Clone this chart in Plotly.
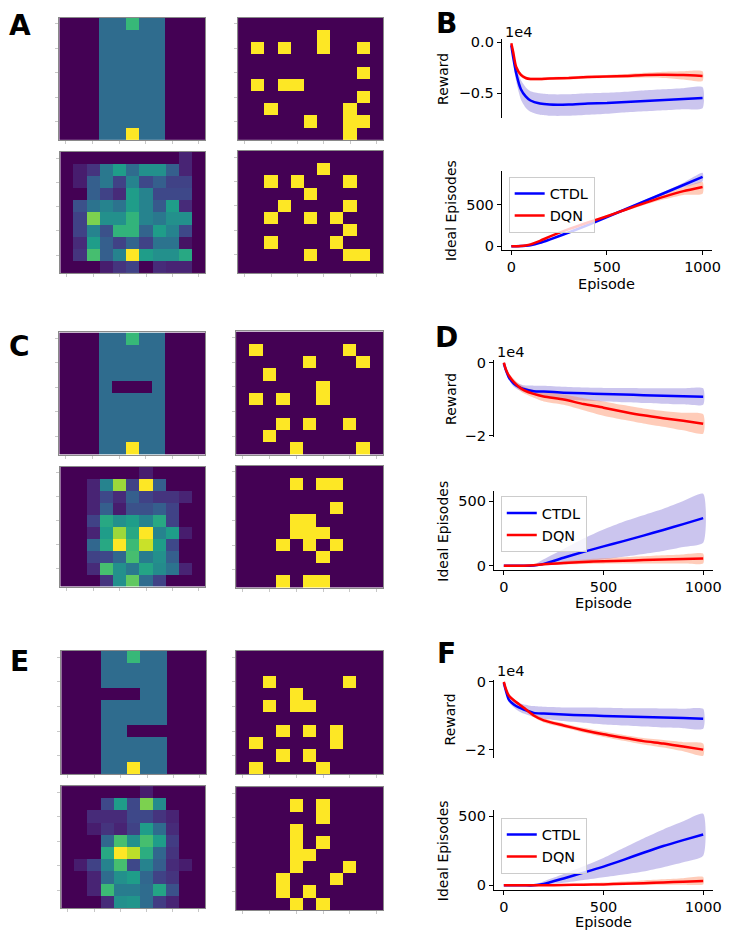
import plotly.graph_objects as go

W, H = 733, 941

# ---------------- grid data (10 rows x 11 cols) ----------------
A_track = [
    [0, 0, 0, .35, .35, .67, .35, .35, 0, 0, 0],
    [0, 0, 0, .35, .35, .35, .35, .35, 0, 0, 0],
    [0, 0, 0, .35, .35, .35, .35, .35, 0, 0, 0],
    [0, 0, 0, .35, .35, .35, .35, .35, 0, 0, 0],
    [0, 0, 0, .35, .35, .35, .35, .35, 0, 0, 0],
    [0, 0, 0, .35, .35, .35, .35, .35, 0, 0, 0],
    [0, 0, 0, .35, .35, .35, .35, .35, 0, 0, 0],
    [0, 0, 0, .35, .35, .35, .35, .35, 0, 0, 0],
    [0, 0, 0, .35, .35, .35, .35, .35, 0, 0, 0],
    [0, 0, 0, .35, .35, 1.0, .35, .35, 0, 0, 0],
]
C_track = [
    [0, 0, 0, .35, .35, .67, .35, .35, 0, 0, 0],
    [0, 0, 0, .35, .35, .35, .35, .35, 0, 0, 0],
    [0, 0, 0, .35, .35, .35, .35, .35, 0, 0, 0],
    [0, 0, 0, .35, .35, .35, .35, .35, 0, 0, 0],
    [0, 0, 0, .35, 0, 0, 0, .35, 0, 0, 0],
    [0, 0, 0, .35, .35, .35, .35, .35, 0, 0, 0],
    [0, 0, 0, .35, .35, .35, .35, .35, 0, 0, 0],
    [0, 0, 0, .35, .35, .35, .35, .35, 0, 0, 0],
    [0, 0, 0, .35, .35, .35, .35, .35, 0, 0, 0],
    [0, 0, 0, .35, .35, 1.0, .35, .35, 0, 0, 0],
]
E_track = [
    [0, 0, 0, .35, .35, .67, .35, .35, 0, 0, 0],
    [0, 0, 0, .35, .35, .35, .35, .35, 0, 0, 0],
    [0, 0, 0, .35, .35, .35, .35, .35, 0, 0, 0],
    [0, 0, 0, 0, 0, 0, .35, .35, 0, 0, 0],
    [0, 0, 0, .35, .35, .35, .35, .35, 0, 0, 0],
    [0, 0, 0, .35, .35, .35, .35, .35, 0, 0, 0],
    [0, 0, 0, .35, .35, 0, 0, 0, 0, 0, 0],
    [0, 0, 0, .35, .35, .35, .35, .35, 0, 0, 0],
    [0, 0, 0, .35, .35, .35, .35, .35, 0, 0, 0],
    [0, 0, 0, .35, .35, 1.0, .35, .35, 0, 0, 0],
]

A_obs = ["00000000000", "00000010000", "01010010010", "00000000000", "00000000010",
         "01011000000", "00000000010", "00100000100", "00000100110", "00000000100"]
A_bin = ["00000000000", "00000010000", "00101000100", "00000100000", "00010000100",
         "00100101000", "00000000100", "00100001000", "00000100110", "00000000000"]
C_obs = ["00000000000", "01000000100", "00000100010", "00100000000", "00000010000",
         "01010010000", "00000000000", "00010100100", "00100000000", "00001000010"]
C_bin = ["00000000000", "00001011000", "00000000000", "00000001000", "00001100000",
         "00001110000", "00010101000", "00000010000", "00000000000", "00010110000"]
E_obs = ["00000000000", "00000000000", "00100000100", "00001000000", "00101100000",
         "00000000000", "00010101000", "01000001000", "00010100000", "01000010000"]
E_bin = ["00000000000", "00001010000", "00000010000", "00001000000", "00001010000",
         "00001100000", "00001000100", "00010001000", "00010100000", "00001010000"]

A_heat = [
    [0, 0, 0, 0, 0, 0, 0, 0, 0, .10, 0],
    [0, .08, .15, .40, .55, .35, .50, .50, .30, .10, 0],
    [0, .08, .30, .40, .20, .45, .22, .30, .20, .20, 0],
    [0, 0, .30, .20, .12, .55, .45, .22, .22, .22, 0],
    [0, .25, .38, .45, .38, .55, .45, .28, .55, .12, 0],
    [0, .20, .80, .50, .50, .65, .45, .40, .50, .50, 0],
    [0, .20, .45, .25, .65, .65, .32, .55, .45, .22, 0],
    [0, .12, .55, .30, .20, .32, .20, .38, .38, .05, 0],
    [0, .15, .70, .30, .45, 1.0, .55, .50, .50, .60, 0],
    [0, 0, 0, .08, .15, .20, 0, .12, .10, .10, 0],
]
C_heat = [
    [0, 0, 0, 0, 0, 0, .08, 0, 0, 0, 0],
    [0, 0, .10, .45, .85, .20, 1.0, .30, 0, 0, 0],
    [0, 0, .10, .22, .12, .30, .20, .15, .15, .10, 0],
    [0, 0, .10, .30, .08, .25, .25, .30, .20, 0, 0],
    [0, 0, .20, .60, .50, .55, .45, .60, .20, 0, 0],
    [0, 0, .10, .55, .85, .60, 1.0, .45, .55, .08, 0],
    [0, 0, .33, .60, 1.0, .68, .92, .55, .22, 0, 0],
    [0, 0, .20, .22, .33, .70, .42, .50, .30, 0, 0],
    [0, 0, .12, .70, .50, .40, .58, .48, .38, .10, 0],
    [0, 0, 0, .15, .50, .75, .35, .20, 0, 0, 0],
]
E_heat = [
    [0, 0, 0, 0, 0, 0, .08, 0, 0, 0, 0],
    [0, 0, 0, .22, .55, .22, .80, .48, 0, 0, 0],
    [0, 0, .12, .12, .12, .22, .22, .15, .10, 0, 0],
    [0, 0, .08, .15, .10, .20, .55, .35, .12, 0, 0],
    [0, 0, 0, .33, .70, .50, .70, .55, .18, 0, 0],
    [0, 0, 0, .60, 1.0, .90, .62, .33, .15, 0, 0],
    [0, .08, .20, .45, .70, .22, .45, .30, .12, .08, 0],
    [0, 0, .10, .35, .50, .55, .33, .20, .15, 0, 0],
    [0, 0, .10, .68, .42, .42, .35, .58, .25, 0, 0],
    [0, 0, 0, .12, .50, .52, .35, .18, .10, 0, 0],
]

# ---------------- curve data ----------------
episodes = [0, 10, 25, 50, 75, 100, 150, 200, 300, 400, 500, 600, 700, 800, 900, 1000]

# rewards in units of 1e4
B_rew_ctdl = [-0.03, -0.15, -0.30, -0.46, -0.53, -0.57, -0.60, -0.61, -0.61, -0.60, -0.595, -0.585, -0.575, -0.565, -0.555, -0.545]
B_rew_ctdl_hi = [-0.01, -0.10, -0.22, -0.37, -0.44, -0.48, -0.50, -0.51, -0.51, -0.50, -0.495, -0.485, -0.47, -0.46, -0.45, -0.44]
B_rew_ctdl_lo = [-0.05, -0.20, -0.38, -0.56, -0.64, -0.68, -0.71, -0.72, -0.72, -0.71, -0.70, -0.685, -0.675, -0.665, -0.655, -0.645]
B_rew_dqn = [-0.01, -0.10, -0.24, -0.32, -0.35, -0.36, -0.36, -0.355, -0.35, -0.34, -0.335, -0.33, -0.32, -0.318, -0.322, -0.33]
B_rew_dqn_hi = [0.0, -0.08, -0.22, -0.30, -0.335, -0.345, -0.345, -0.34, -0.335, -0.325, -0.32, -0.312, -0.30, -0.29, -0.285, -0.285]
B_rew_dqn_lo = [-0.02, -0.12, -0.26, -0.34, -0.365, -0.375, -0.375, -0.37, -0.365, -0.355, -0.35, -0.35, -0.345, -0.35, -0.365, -0.38]

B_ide_ctdl = [0, 0, 0, 2, 6, 12, 40, 80, 165, 255, 350, 446, 542, 638, 734, 830]
B_ide_ctdl_hi = [0, 0, 0, 3, 8, 15, 44, 85, 172, 263, 360, 458, 557, 657, 762, 880]
B_ide_ctdl_lo = [0, 0, 0, 1, 4, 9, 36, 75, 158, 247, 340, 434, 527, 619, 706, 780]
B_ide_dqn = [0, 0, 0, 3, 10, 22, 65, 115, 205, 285, 360, 440, 520, 595, 660, 710]
B_ide_dqn_hi = [0, 0, 0, 4, 12, 25, 70, 121, 212, 294, 372, 455, 542, 628, 705, 770]
B_ide_dqn_lo = [0, 0, 0, 2, 8, 19, 60, 109, 198, 276, 348, 425, 498, 562, 615, 630]

D_rew_ctdl = [-0.02, -0.20, -0.40, -0.57, -0.66, -0.72, -0.78, -0.79, -0.82, -0.84, -0.855, -0.87, -0.89, -0.905, -0.92, -0.93]
D_rew_ctdl_hi = [-0.01, -0.15, -0.33, -0.48, -0.57, -0.62, -0.63, -0.63, -0.66, -0.68, -0.69, -0.695, -0.70, -0.70, -0.70, -0.70]
D_rew_ctdl_lo = [-0.03, -0.25, -0.47, -0.66, -0.75, -0.80, -0.88, -0.94, -1.00, -1.04, -1.06, -1.08, -1.10, -1.12, -1.14, -1.15]
D_rew_dqn = [0.0, -0.18, -0.35, -0.53, -0.66, -0.75, -0.855, -0.925, -1.01, -1.13, -1.23, -1.34, -1.44, -1.52, -1.59, -1.67]
D_rew_dqn_hi = [0.0, -0.14, -0.30, -0.45, -0.58, -0.66, -0.75, -0.79, -0.87, -0.97, -1.06, -1.16, -1.25, -1.32, -1.37, -1.41]
D_rew_dqn_lo = [0.0, -0.22, -0.40, -0.60, -0.74, -0.84, -0.96, -1.06, -1.15, -1.30, -1.45, -1.56, -1.66, -1.75, -1.85, -1.94]

D_ide_ctdl = [0, 0, 0, 0, 0, 0, 3, 15, 62, 108, 150, 191, 233, 277, 322, 368]
D_ide_ctdl_hi = [0, 0, 0, 0, 0, 0, 8, 50, 130, 210, 280, 340, 390, 440, 500, 556]
D_ide_ctdl_lo = [0, 0, 0, 0, 0, 0, 0, 3, 12, 30, 50, 70, 92, 115, 145, 178]
D_ide_dqn = [0, 0, 0, 0, 0, 0, 4, 12, 22, 30, 36, 40, 44, 48, 52, 56]
D_ide_dqn_hi = [0, 0, 0, 0, 0, 0, 8, 20, 35, 48, 58, 66, 74, 82, 88, 94]
D_ide_dqn_lo = [0, 0, 0, 0, 0, 0, 0, 5, 10, 14, 16, 17, 18, 18, 18, 18]

F_rew_ctdl = [-0.03, -0.25, -0.52, -0.66, -0.75, -0.81, -0.91, -0.93, -0.96, -0.98, -1.00, -1.015, -1.03, -1.045, -1.06, -1.08]
F_rew_ctdl_hi = [-0.02, -0.20, -0.45, -0.57, -0.63, -0.66, -0.71, -0.73, -0.75, -0.755, -0.76, -0.77, -0.775, -0.78, -0.785, -0.79]
F_rew_ctdl_lo = [-0.04, -0.30, -0.59, -0.75, -0.86, -0.93, -1.03, -1.08, -1.15, -1.20, -1.25, -1.28, -1.31, -1.34, -1.36, -1.38]
F_rew_dqn = [0.0, -0.20, -0.40, -0.54, -0.65, -0.76, -0.985, -1.13, -1.28, -1.42, -1.54, -1.64, -1.74, -1.81, -1.90, -1.99]
F_rew_dqn_hi = [0.0, -0.18, -0.37, -0.50, -0.61, -0.71, -0.93, -1.07, -1.22, -1.35, -1.46, -1.56, -1.65, -1.71, -1.77, -1.81]
F_rew_dqn_lo = [0.0, -0.22, -0.43, -0.58, -0.69, -0.81, -1.04, -1.19, -1.34, -1.49, -1.62, -1.73, -1.84, -1.93, -2.04, -2.17]

F_ide_ctdl = [0, 0, 0, 0, 0, 0, 0, 10, 50, 92, 136, 185, 236, 285, 328, 369]
F_ide_ctdl_hi = [0, 0, 0, 0, 0, 0, 2, 30, 83, 138, 198, 270, 340, 405, 464, 519]
F_ide_ctdl_lo = [0, 0, 0, 0, 0, 0, 0, 3, 18, 38, 58, 78, 100, 131, 167, 214]
F_ide_dqn = [0, 0, 0, 0, 0, 0, 0, 0, 3, 5, 7, 11, 15, 21, 26, 31]
F_ide_dqn_hi = [0, 0, 0, 0, 0, 0, 0, 2, 8, 14, 20, 28, 36, 44, 52, 60]
F_ide_dqn_lo = [0, 0, 0, 0, 0, 0, 0, 0, 0, 0, 0, 1, 2, 4, 5, 7]

method_names = ["CTDL", "DQN"]
panel_letters = ["A", "B", "C", "D", "E", "F"]
reward_ticks = {"B": ([0, -0.5], ["0.0", "\u22120.5"]), "D": ([0, -2], ["0", "\u22122"]), "F": ([0, -2], ["0", "\u22122"])}
ideal_ticks = ([0, 500], ["0", "500"])
episode_ticks = ([0, 500, 1000], ["0", "500", "1000"])

# ---------------- layout helpers ----------------
FONT = "DejaVu Sans"
TICK_SIZE = 14.5
TITLE_SIZE = 14
fig = go.Figure()
layout = dict(width=W, height=H, margin=dict(l=0, r=0, t=0, b=0),
              paper_bgcolor="white", plot_bgcolor="white", showlegend=True,
              font=dict(family=FONT, size=14, color="black"))
annotations = []
axis_counter = [0]


def xd(a, b):
    return [a / W, b / W]


def yd(top, bottom):
    return [1 - bottom / H, 1 - top / H]


def new_axes():
    axis_counter[0] += 1
    n = axis_counter[0]
    s = "" if n == 1 else str(n)
    return "x" + s, "y" + s, "xaxis" + s, "yaxis" + s


def add_grid(z, xdom, ydom):
    xa, ya, xk, yk = new_axes()
    fig.add_trace(go.Heatmap(z=z, colorscale="Viridis", zmin=0, zmax=1, showscale=False,
                             xaxis=xa, yaxis=ya, hoverinfo="skip"))
    common = dict(showgrid=False, zeroline=False, showline=True, mirror=True,
                  linecolor="#8a8a8a", linewidth=1, ticks="outside", ticklen=3,
                  tickcolor="#c8c8c8", showticklabels=False)
    layout[xk] = dict(domain=xd(*xdom), range=[-0.5, 10.5], tickvals=[0, 2, 4, 6, 8, 10],
                      anchor=ya, **common)
    layout[yk] = dict(domain=yd(*ydom), range=[9.5, -0.5], tickvals=[0, 2, 4, 6, 8],
                      anchor=xa, **common)


def binary(rows):
    return [[int(c) for c in r] for r in rows]


def band(xa, ya, lo, hi, color):
    fig.add_trace(go.Scatter(x=episodes + episodes[::-1], y=hi + lo[::-1], fill="toself",
                             fillcolor=color, line=dict(width=0, shape="spline", smoothing=0.6),
                             mode="lines", showlegend=False, hoverinfo="skip", xaxis=xa, yaxis=ya))


BLUE_BAND = "rgba(106,90,205,0.35)"
RED_BAND = "rgba(255,127,80,0.4)"


def add_curves(ctdl, ctdl_hi, ctdl_lo, dqn, dqn_hi, dqn_lo, xdom, ydom, yrange,
               ticks, is_reward, legend_name=None):
    xa, ya, xk, yk = new_axes()
    band(xa, ya, ctdl_lo, ctdl_hi, BLUE_BAND)
    band(xa, ya, dqn_lo, dqn_hi, RED_BAND)
    for name, vals, col in [(method_names[0], ctdl, "#0000ff"), (method_names[1], dqn, "#ff0000")]:
        fig.add_trace(go.Scatter(x=episodes, y=vals, mode="lines", name=name,
                                 line=dict(color=col, width=2.5, shape="spline", smoothing=0.6),
                                 showlegend=legend_name is not None,
                                 legend=legend_name if legend_name else "legend",
                                 xaxis=xa, yaxis=ya))
    xaxis = dict(domain=xd(*xdom), range=[-50, 1050], anchor=ya, showgrid=False, zeroline=False)
    if is_reward:
        xaxis.update(visible=False)
    else:
        xaxis.update(showline=True, linecolor="black", linewidth=1, ticks="outside", ticklen=4,
                     tickcolor="black", tickvals=episode_ticks[0], ticktext=episode_ticks[1],
                     tickfont=dict(size=TICK_SIZE), ticklabeloverflow="allow")
    layout[xk] = xaxis
    layout[yk] = dict(domain=yd(*ydom), range=yrange, anchor=xa, showgrid=False, zeroline=False,
                      showline=True, linecolor="black", linewidth=1, ticks="outside", ticklen=4,
                      tickcolor="black", tickvals=ticks[0], ticktext=ticks[1],
                      tickfont=dict(size=TICK_SIZE))


def text(x, y, s, size=14, bold=False, angle=0, xanchor="center"):
    annotations.append(dict(x=x / W, y=1 - y / H, xref="paper", yref="paper", text=s,
                            showarrow=False, textangle=angle, xanchor=xanchor, yanchor="middle",
                            font=dict(family=FONT, size=size, color="black",
                                      weight="bold" if bold else "normal")))


# ---------------- grids ----------------
add_grid(A_track, (60, 208), (12, 136))
add_grid(binary(A_obs), (241, 388), (12, 136))
add_grid(A_heat, (61, 208), (148, 271))
add_grid(binary(A_bin), (241, 388), (147, 271))

add_grid(C_track, (60, 208), (331, 455))
add_grid(binary(C_obs), (239, 388), (330, 455))
add_grid(C_heat, (61, 208), (467, 589))
add_grid(binary(C_bin), (239, 388), (466, 590))

add_grid(E_track, (62, 209), (654, 779))
add_grid(binary(E_obs), (239, 388), (654, 779))
add_grid(E_heat, (62, 208), (791, 915))
add_grid(binary(E_bin), (239, 388), (792, 917))

# ---------------- curves ----------------
add_curves(B_rew_ctdl, B_rew_ctdl_hi, B_rew_ctdl_lo, B_rew_dqn, B_rew_dqn_hi, B_rew_dqn_lo,
           (508, 721), (33, 114), [-0.745, 0.035], reward_ticks["B"], True)
add_curves(B_ide_ctdl, B_ide_ctdl_hi, B_ide_ctdl_lo, B_ide_dqn, B_ide_dqn_hi, B_ide_dqn_lo,
           (508, 721), (167, 247), [-40, 905], ideal_ticks, False, "legend")
add_curves(D_rew_ctdl, D_rew_ctdl_hi, D_rew_ctdl_lo, D_rew_dqn, D_rew_dqn_hi, D_rew_dqn_lo,
           (500, 722), (359, 437), [-2.03, 0.07], reward_ticks["D"], True)
add_curves(D_ide_ctdl, D_ide_ctdl_hi, D_ide_ctdl_lo, D_ide_dqn, D_ide_dqn_hi, D_ide_dqn_lo,
           (500, 722), (492, 572), [-33, 576], ideal_ticks, False, "legend2")
add_curves(F_rew_ctdl, F_rew_ctdl_hi, F_rew_ctdl_lo, F_rew_dqn, F_rew_dqn_hi, F_rew_dqn_lo,
           (500, 722), (683, 763), [-2.25, 0.07], reward_ticks["F"], True)
add_curves(F_ide_ctdl, F_ide_ctdl_hi, F_ide_ctdl_lo, F_ide_dqn, F_ide_dqn_hi, F_ide_dqn_lo,
           (500, 722), (815, 896), [-31, 548], ideal_ticks, False, "legend3")

legend_style = dict(xref="paper", yref="paper", xanchor="left", yanchor="top",
                    bgcolor="rgba(255,255,255,0.8)", bordercolor="#cccccc", borderwidth=1,
                    font=dict(family=FONT, size=14.5, color="black"), itemwidth=30,
                    tracegroupgap=0)
layout["legend"] = dict(x=515 / W, y=1 - 173 / H, **legend_style)
layout["legend2"] = dict(x=507 / W, y=1 - 497 / H, **legend_style)
layout["legend3"] = dict(x=507 / W, y=1 - 823 / H, **legend_style)

# ---------------- texts ----------------
letter_pos = [(20, 20), (452, 18), (20, 345), (452, 336), (20, 665), (452, 657)]
for letter, (lx, ly) in zip(panel_letters, letter_pos):
    text(lx, ly, letter, size=28, bold=True)

for (x1e4, y1e4) in [(509, 26), (501, 351), (501, 674)]:
    text(x1e4, y1e4, "1e4", size=TICK_SIZE, xanchor="left")

text(448.5, 74, "Reward", size=TITLE_SIZE, angle=-90)
text(456.5, 207, "Ideal Episodes", size=TITLE_SIZE, angle=-90)
text(614, 282, "Episode", size=TICK_SIZE)
text(456, 398, "Reward", size=TITLE_SIZE, angle=-90)
text(448.5, 532, "Ideal Episodes", size=TITLE_SIZE, angle=-90)
text(611, 605, "Episode", size=TICK_SIZE)
text(456, 723, "Reward", size=TITLE_SIZE, angle=-90)
text(448.5, 856, "Ideal Episodes", size=TITLE_SIZE, angle=-90)
text(611, 929, "Episode", size=TICK_SIZE)

layout["annotations"] = annotations
fig.update_layout(**layout)
fig.write_html("out.html", config={"displayModeBar": False},
               post_script="document.body.style.margin='0';document.body.style.overflow='hidden';")
